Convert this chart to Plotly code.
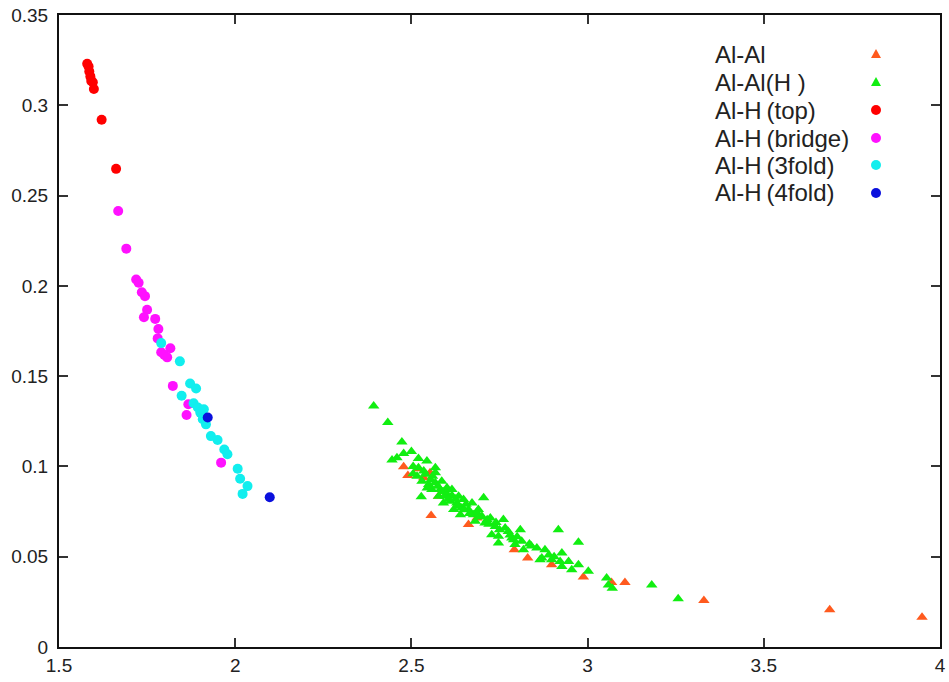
import plotly.graph_objects as go

# ---- data ----
alal_x = [2.478, 2.490, 2.520, 2.535, 2.553, 2.577, 2.556, 2.686, 2.662, 2.792,
          2.830, 2.898, 2.988, 3.068, 3.106, 3.330, 3.687, 3.949]
alal_y = [0.0998, 0.0950, 0.0987, 0.0937, 0.0965, 0.0835, 0.0728, 0.0715, 0.0678, 0.0539,
          0.0493, 0.0456, 0.0387, 0.0357, 0.0357, 0.0257, 0.0206, 0.0165]

alalh_x = [2.393, 2.433, 2.473, 2.478, 2.500, 2.445, 2.459, 2.520, 2.544, 2.568,
           2.520, 2.539, 2.568, 2.516, 2.530, 2.549, 2.568, 2.586, 2.558, 2.582,
           2.601, 2.615, 2.577, 2.596, 2.615, 2.634, 2.528, 2.591, 2.610, 2.629,
           2.648, 2.672, 2.705, 2.620, 2.643, 2.662, 2.690, 2.639, 2.676, 2.700,
           2.724, 2.761, 2.681, 2.709, 2.738, 2.766, 2.809, 2.728, 2.747, 2.785,
           2.813, 2.747, 2.794, 2.818, 2.856, 2.879, 2.917, 2.974, 2.927, 2.870,
           2.898, 2.946, 2.974, 2.927, 2.955, 3.002, 3.054, 3.059, 3.070, 3.182,
           3.257, 2.790, 2.865, 2.922, 2.555, 2.600, 2.625, 2.655, 2.685, 2.715,
           2.740, 2.775, 2.800, 2.840, 2.505, 2.545, 2.505, 2.535, 2.560, 2.575,
           2.590, 2.605, 2.630, 2.650, 2.665, 2.695, 2.720, 2.750, 2.780, 2.835,
           2.890, 2.905]
alalh_y = [0.1335, 0.1243, 0.1135, 0.1072, 0.1082, 0.1035, 0.1048, 0.1044, 0.1030, 0.0993,
           0.0993, 0.0956, 0.0965, 0.0946, 0.0918, 0.0900, 0.0909, 0.0918, 0.0872, 0.0872,
           0.0882, 0.0872, 0.0835, 0.0835, 0.0839, 0.0835, 0.0832, 0.0798, 0.0807, 0.0798,
           0.0817, 0.0798, 0.0826, 0.0761, 0.0770, 0.0761, 0.0761, 0.0733, 0.0733, 0.0724,
           0.0715, 0.0706, 0.0696, 0.0687, 0.0668, 0.0659, 0.0650, 0.0622, 0.0613, 0.0604,
           0.0585, 0.0576, 0.0567, 0.0539, 0.0548, 0.0539, 0.0650, 0.0580, 0.0520, 0.0493,
           0.0483, 0.0474, 0.0456, 0.0446, 0.0428, 0.0419, 0.0382, 0.0344, 0.0326, 0.0344,
           0.0267, 0.0594, 0.0483, 0.0474, 0.0925, 0.0850, 0.0820, 0.0790, 0.0745, 0.0705,
           0.0690, 0.0640, 0.0610, 0.0560, 0.0960, 0.0880, 0.1000, 0.0975, 0.0945, 0.0890,
           0.0860, 0.0820, 0.0780, 0.0760, 0.0740, 0.0720, 0.0680, 0.0650, 0.0620, 0.0570,
           0.0510, 0.0500]

top_x = [1.580, 1.584, 1.586, 1.589, 1.5915, 1.596, 1.599, 1.621, 1.662]
top_y = [0.3230, 0.3215, 0.3187, 0.3160, 0.3135, 0.3128, 0.3090, 0.2920, 0.2648]

bridge_x = [1.668, 1.691, 1.719, 1.726, 1.735, 1.744, 1.750, 1.741, 1.773, 1.782,
            1.780, 1.816, 1.790, 1.799, 1.807, 1.823, 1.867, 1.862, 1.960]
bridge_y = [0.2415, 0.2206, 0.2035, 0.2017, 0.1965, 0.1943, 0.1868, 0.1826, 0.1817, 0.1761,
            0.1709, 0.1654, 0.1632, 0.1617, 0.1604, 0.1446, 0.1344, 0.1285, 0.1021]

fold3_x = [1.790, 1.843, 1.872, 1.889, 1.848, 1.882, 1.894, 1.901, 1.911, 1.908,
           1.917, 1.931, 1.950, 1.969, 1.978, 2.007, 2.014, 2.035, 2.021]
fold3_y = [0.1683, 0.1582, 0.1459, 0.1432, 0.1391, 0.1350, 0.1326, 0.1298, 0.1317, 0.1261,
           0.1233, 0.1168, 0.1146, 0.1094, 0.1067, 0.0987, 0.0932, 0.0891, 0.0848]

fold4_x = [1.922, 2.098]
fold4_y = [0.1271, 0.0829]

series_names = ["Al-Al", "Al-Al(H )", "Al-H\u2009(top)", "Al-H\u2009(bridge)",
                "Al-H\u2009(3fold)", "Al-H\u2009(4fold)"]
series_colors = ["#ff5a1e", "#11ee11", "#ff0000", "#ff11ff", "#11eeee", "#0a10dd"]
series_symbols = ["triangle-up", "triangle-up", "circle", "circle", "circle", "circle"]
series_data = [(alal_x, alal_y), (alalh_x, alalh_y), (top_x, top_y),
               (bridge_x, bridge_y), (fold3_x, fold3_y), (fold4_x, fold4_y)]

x_ticks = [1.5, 2, 2.5, 3, 3.5, 4]
x_ticktext = ["1.5", "2", "2.5", "3", "3.5", "4"]
y_ticks = [0, 0.05, 0.1, 0.15, 0.2, 0.25, 0.3, 0.35]
y_ticktext = ["0", "0.05", "0.1", "0.15", "0.2", "0.25", "0.3", "0.35"]

fig = go.Figure()
for (xs, ys), name, col, sym in zip(series_data, series_names, series_colors, series_symbols):
    fig.add_trace(go.Scatter(
        x=xs, y=ys, mode="markers", name=name, showlegend=False,
        marker=dict(color=col, symbol=sym, size=10, line=dict(width=0)),
    ))

FIG_W, FIG_H = 949, 682
# plot frame in pixels
plot_l, plot_r, plot_t, plot_b = 59, 940, 15, 647
pw, ph = plot_r - plot_l, plot_b - plot_t

# legend drawn as text + keys on the right (gnuplot style), in pixels
row_py = [54, 82, 110, 138, 165, 193]
text_px = 713
key_px = 876
annotations = []
shapes = []
for name, col, sym, py in zip(series_names, series_colors, series_symbols, row_py):
    yp = (plot_b - py) / ph
    annotations.append(dict(
        x=(text_px - plot_l) / pw, y=yp, xref="paper", yref="paper",
        text=name, showarrow=False, xanchor="left", yanchor="middle",
        font=dict(family="Liberation Sans, Arial, sans-serif", size=24, color="#222222"),
    ))
    xa = (key_px - plot_l) / pw
    if sym == "circle":
        shapes.append(dict(type="circle", xref="paper", yref="paper",
                           xsizemode="pixel", ysizemode="pixel",
                           xanchor=xa, yanchor=yp, x0=-5, x1=5, y0=-5, y1=5,
                           fillcolor=col, line=dict(width=0)))
    else:
        shapes.append(dict(type="path", xref="paper", yref="paper",
                           xsizemode="pixel", ysizemode="pixel",
                           xanchor=xa, yanchor=yp,
                           path="M -5,-4 L 5,-4 L 0,5 Z",
                           fillcolor=col, line=dict(width=0)))

axis_common = dict(
    showline=True, linecolor="#111111", linewidth=2, mirror="ticks",
    ticks="inside", ticklen=9, tickwidth=1.5, tickcolor="#333333",
    showgrid=False, zeroline=False, automargin=False,
    tickfont=dict(family="Liberation Sans, Arial, sans-serif", size=19, color="#222222"),
)

fig.update_layout(
    width=FIG_W, height=FIG_H,
    margin=dict(l=plot_l, r=FIG_W - plot_r, t=plot_t, b=FIG_H - plot_b, autoexpand=False),
    paper_bgcolor="white", plot_bgcolor="white",
    xaxis=dict(range=[1.5, 4], tickvals=x_ticks, ticktext=x_ticktext, **axis_common),
    yaxis=dict(range=[0, 0.35], tickvals=y_ticks, ticktext=y_ticktext,
               ticklabelstandoff=5, **axis_common),
    annotations=annotations, shapes=shapes,
    showlegend=False,
)

fig.write_html("out.html",
               config={"displayModeBar": False},
               post_script="document.body.style.margin='0';document.body.style.overflow='hidden';")
